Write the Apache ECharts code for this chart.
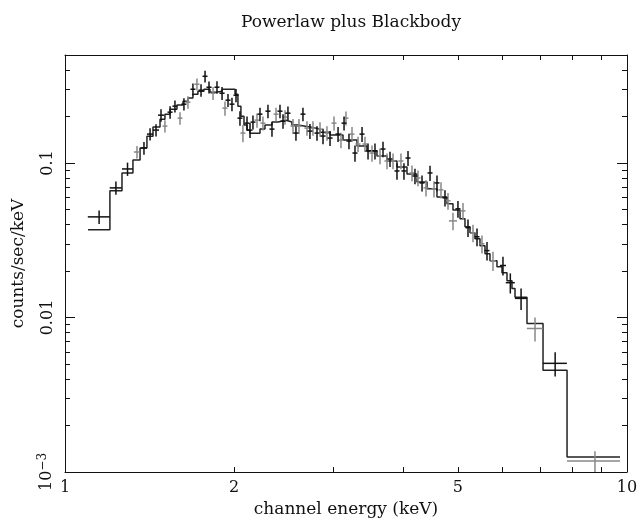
<!DOCTYPE html>
<html>
<head>
<meta charset="utf-8">
<title>Powerlaw plus Blackbody</title>
<script src="https://cdn.jsdelivr.net/npm/echarts@6.0.0/dist/echarts.min.js"></script>
<style>
  html, body { margin: 0; padding: 0; background: #fff; }
  #chart { width: 641px; height: 519px; }
</style>
</head>
<body>
<div id="chart"></div>
<script>
// 数据集 A（黑色）: 道能量 keV, 半宽 keV, 计数率, 误差
const aEnergy = [1.15, 1.232, 1.292, 1.382, 1.417, 1.452, 1.482, 1.538, 1.569, 1.628, 1.689, 1.746, 1.775, 1.804, 1.864, 1.903, 1.950, 1.982, 2.015, 2.048, 2.108, 2.134, 2.160, 2.223, 2.297, 2.335, 2.413, 2.443, 2.493, 2.576, 2.651, 2.728, 2.808, 2.878, 2.962, 3.061, 3.137, 3.201, 3.281, 3.377, 3.461, 3.561, 3.680, 3.787, 3.897, 4.010, 4.077, 4.195, 4.318, 4.462, 4.591, 4.744, 5.003, 5.213, 5.409, 5.635, 6.016, 6.20, 6.479, 7.45];
const aHalfWidth = [0.052, 0.031, 0.029, 0.017, 0.018, 0.018, 0.018, 0.016, 0.016, 0.017, 0.017, 0.018, 0.018, 0.019, 0.019, 0.020, 0.020, 0.020, 0.021, 0.021, 0.022, 0.022, 0.022, 0.023, 0.024, 0.024, 0.025, 0.025, 0.026, 0.027, 0.027, 0.028, 0.029, 0.030, 0.031, 0.032, 0.032, 0.033, 0.034, 0.035, 0.036, 0.037, 0.038, 0.039, 0.040, 0.041, 0.042, 0.043, 0.044, 0.046, 0.047, 0.049, 0.052, 0.054, 0.056, 0.058, 0.075, 0.115, 0.16, 0.367];
const aRate = [0.0448, 0.0690, 0.0915, 0.1249, 0.1538, 0.1633, 0.2040, 0.2133, 0.2332, 0.2403, 0.3002, 0.2958, 0.3641, 0.3093, 0.3093, 0.2829, 0.2550, 0.2403, 0.2746, 0.1951, 0.1811, 0.1633, 0.1839, 0.2071, 0.2165, 0.1657, 0.2165, 0.1866, 0.2101, 0.1562, 0.2071, 0.1609, 0.1562, 0.1494, 0.1450, 0.1538, 0.1811, 0.1387, 0.1160, 0.1538, 0.1195, 0.1195, 0.1231, 0.1061, 0.0888, 0.0888, 0.1077, 0.0824, 0.0743, 0.0862, 0.0743, 0.0595, 0.0505, 0.0381, 0.0333, 0.0271, 0.0217, 0.0168, 0.0133, 0.00505];
const aError = [0.0045, 0.0068, 0.009, 0.012, 0.014, 0.015, 0.019, 0.020, 0.021, 0.022, 0.027, 0.027, 0.032, 0.028, 0.029, 0.027, 0.025, 0.024, 0.027, 0.021, 0.019, 0.018, 0.019, 0.021, 0.022, 0.018, 0.022, 0.020, 0.022, 0.017, 0.021, 0.018, 0.017, 0.017, 0.016, 0.017, 0.019, 0.016, 0.014, 0.017, 0.014, 0.014, 0.014, 0.012, 0.011, 0.011, 0.012, 0.0095, 0.0088, 0.0098, 0.0087, 0.0072, 0.0063, 0.0049, 0.0044, 0.0037, 0.003, 0.0025, 0.0021, 0.0009];

// 数据集 B（灰色）
const bEnergy = [1.343, 1.506, 1.602, 1.655, 1.717, 1.834, 1.926, 2.073, 2.196, 2.250, 2.374, 2.463, 2.545, 2.608, 2.695, 2.762, 2.843, 2.925, 3.011, 3.098, 3.162, 3.241, 3.322, 3.418, 3.518, 3.635, 3.741, 3.834, 3.961, 4.144, 4.247, 4.389, 4.535, 4.667, 4.803, 4.902, 5.107, 5.321, 5.520, 5.775, 6.86, 8.77];
const bHalfWidth = [0.017, 0.015, 0.016, 0.017, 0.018, 0.019, 0.020, 0.021, 0.023, 0.023, 0.024, 0.025, 0.026, 0.027, 0.028, 0.028, 0.029, 0.030, 0.031, 0.032, 0.033, 0.033, 0.034, 0.035, 0.036, 0.037, 0.039, 0.040, 0.041, 0.043, 0.044, 0.045, 0.047, 0.048, 0.050, 0.081, 0.053, 0.055, 0.057, 0.060, 0.225, 0.95];
const bRate = [0.1178, 0.1733, 0.1951, 0.2475, 0.3233, 0.2829, 0.2264, 0.1562, 0.1894, 0.1811, 0.2071, 0.1981, 0.1733, 0.1733, 0.1682, 0.1682, 0.1657, 0.1562, 0.1811, 0.1407, 0.1951, 0.1538, 0.1326, 0.1326, 0.1160, 0.1110, 0.1030, 0.1030, 0.1030, 0.0862, 0.0800, 0.0690, 0.0680, 0.0670, 0.0569, 0.0422, 0.0490, 0.0353, 0.0300, 0.0233, 0.00849, 0.00118];
const bError = [0.011, 0.016, 0.018, 0.023, 0.029, 0.027, 0.024, 0.020, 0.020, 0.019, 0.021, 0.021, 0.019, 0.019, 0.018, 0.018, 0.018, 0.017, 0.019, 0.016, 0.020, 0.017, 0.015, 0.015, 0.014, 0.013, 0.012, 0.012, 0.012, 0.010, 0.0093, 0.0082, 0.0081, 0.008, 0.007, 0.0055, 0.006, 0.0046, 0.004, 0.0033, 0.0015, 0.00018];

// 模型（幂律 + 黑体）: 分箱边界和每箱的值
const modelEdges = [1.099, 1.202, 1.263, 1.321, 1.360, 1.399, 1.434, 1.476, 1.506, 1.538, 1.582, 1.622, 1.655, 1.689, 1.724, 1.767, 1.811, 1.856, 1.903, 1.958, 2.007, 2.031, 2.056, 2.082, 2.108, 2.134, 2.223, 2.269, 2.335, 2.393, 2.473, 2.534, 2.597, 2.728, 2.843, 2.962, 3.124, 3.308, 3.446, 3.590, 3.741, 3.897, 4.060, 4.230, 4.407, 4.591, 4.783, 4.902, 5.045, 5.149, 5.256, 5.364, 5.475, 5.589, 5.704, 5.870, 5.992, 6.116, 6.242, 6.320, 6.638, 7.089, 7.822, 9.717];
const modelRate = [0.0370, 0.0660, 0.0862, 0.1045, 0.125, 0.149, 0.171, 0.192, 0.207, 0.223, 0.237, 0.251, 0.263, 0.279, 0.291, 0.300, 0.287, 0.291, 0.300, 0.300, 0.279, 0.233, 0.201, 0.176, 0.163, 0.156, 0.166, 0.176, 0.184, 0.189, 0.184, 0.176, 0.171, 0.166, 0.158, 0.152, 0.141, 0.129, 0.120, 0.111, 0.103, 0.0942, 0.0849, 0.0754, 0.0680, 0.0603, 0.0544, 0.0497, 0.0435, 0.0386, 0.0353, 0.0323, 0.0291, 0.0259, 0.0233, 0.0213, 0.0195, 0.0173, 0.0154, 0.0135, 0.00915, 0.00455, 0.00125];

// 刻度
const xTickLabels = [1, 2, 5, 10];
const xMinorTicks = [2, 3, 4, 5, 6, 7, 8, 9];
const yTickLabels = [0.001, 0.01, 0.1];
const yMajorTicks = [0.01, 0.1];
const yMinorTicks = [0.002, 0.003, 0.004, 0.005, 0.006, 0.007, 0.008, 0.009,
  0.02, 0.03, 0.04, 0.05, 0.06, 0.07, 0.08, 0.09, 0.2, 0.3, 0.4, 0.5];

const FONT = 'DejaVu Serif';
const INK = '#111';

const chart = echarts.init(document.getElementById('chart'));

// 带误差的十字点
function crossSeries(name, energy, halfWidth, rate, error, color) {
  return {
    name,
    type: 'custom',
    xAxisIndex: 0,
    yAxisIndex: 0,
    data: energy.map((e, i) => [e, rate[i], halfWidth[i], error[i]]),
    encode: { x: 0, y: 1 },
    renderItem: (params, api) => {
      const e = api.value(0);
      const r = api.value(1);
      const hw = api.value(2);
      const er = api.value(3);
      const l = api.coord([e - hw, r]);
      const rt = api.coord([e + hw, r]);
      const t = api.coord([e, r + er]);
      const b = api.coord([e, r - er]);
      const style = { stroke: color, lineWidth: 1.5 };
      return {
        type: 'group',
        children: [
          { type: 'line', shape: { x1: l[0], y1: l[1], x2: rt[0], y2: rt[1] }, style },
          { type: 'line', shape: { x1: t[0], y1: t[1], x2: b[0], y2: b[1] }, style },
        ],
      };
    },
  };
}

// 阶梯模型线
const modelData = modelRate.map((v, i) => [modelEdges[i], v]);
modelData.push([modelEdges[modelEdges.length - 1], modelRate[modelRate.length - 1]]);

function xAxisOf(position, withLabels) {
  return {
    type: 'log',
    logBase: 10,
    min: 1,
    max: 10,
    position,
    name: withLabels ? 'channel energy (keV)' : '',
    nameLocation: 'middle',
    nameGap: 27,
    nameTextStyle: { fontFamily: FONT, fontSize: 17, color: INK },
    axisLine: { show: true, onZero: false, lineStyle: { color: INK, width: 1 } },
    axisTick: { show: true, inside: true, length: 5, customValues: xMinorTicks, lineStyle: { color: INK } },
    axisLabel: {
      show: withLabels,
      customValues: xTickLabels,
      margin: 8,
      fontFamily: FONT,
      fontSize: 16,
      color: INK,
      formatter: v => String(v),
    },
    splitLine: { show: false },
  };
}

function yAxisOf(position, ticks, len, withLine, withLabels) {
  return {
    type: 'log',
    logBase: 10,
    min: 0.001,
    max: 0.5,
    position,
    offset: 0,
    name: withLabels ? 'counts/sec/keV' : '',
    nameLocation: 'middle',
    nameGap: 38,
    nameTextStyle: { fontFamily: FONT, fontSize: 17, color: INK },
    axisLine: { show: withLine, onZero: false, lineStyle: { color: INK, width: 1 } },
    axisTick: { show: true, inside: true, length: len, customValues: ticks, lineStyle: { color: INK } },
    axisLabel: {
      show: withLabels,
      customValues: yTickLabels,
      rotate: 90,
      margin: 9,
      fontFamily: FONT,
      fontSize: 16,
      color: INK,
      formatter: v => (v < 0.005 ? '{b|10}{s|−3}' : String(v)),
      rich: {
        b: { fontFamily: FONT, fontSize: 16, color: INK },
        s: { fontFamily: FONT, fontSize: 12, color: INK, verticalAlign: 'bottom', padding: [0, 0, 7, 0] },
      },
    },
    splitLine: { show: false },
  };
}

const option = {
  animation: false,
  backgroundColor: '#fff',
  title: {
    text: 'Powerlaw plus Blackbody',
    left: 346,
    top: 9,
    textAlign: 'center',
    textStyle: { fontFamily: FONT, fontSize: 17, fontWeight: 'normal', color: INK },
  },
  grid: { left: 65, right: 14, top: 55, bottom: 47, outerBoundsMode: 'none', containLabel: false },
  xAxis: [xAxisOf('bottom', true), xAxisOf('top', false)],
  yAxis: [
    yAxisOf('left', yMinorTicks, 5, true, true),
    yAxisOf('left', yMajorTicks, 10, false, false),
    yAxisOf('right', yMinorTicks, 5, true, false),
    yAxisOf('right', yMajorTicks, 10, false, false),
  ],
  series: [
    {
      name: 'model',
      type: 'line',
      xAxisIndex: 0,
      yAxisIndex: 0,
      step: 'end',
      symbol: 'none',
      data: modelData,
      lineStyle: { color: '#222', width: 1.5 },
      z: 1,
    },
    crossSeries('data B', bEnergy, bHalfWidth, bRate, bError, '#888'),
    crossSeries('data A', aEnergy, aHalfWidth, aRate, aError, '#111'),
  ],
};

chart.setOption(option);
</script>
</body>
</html>
